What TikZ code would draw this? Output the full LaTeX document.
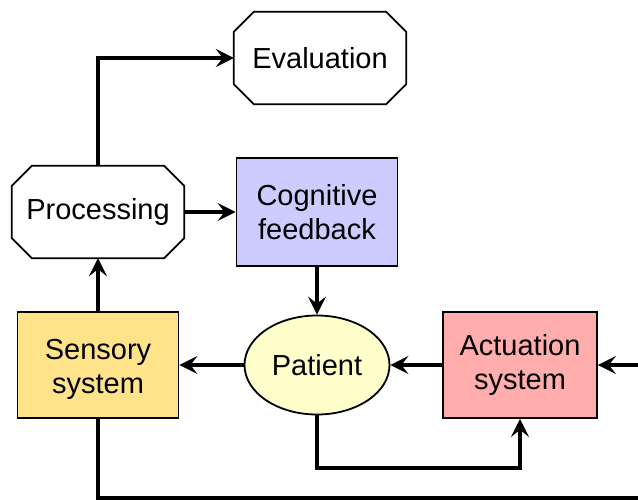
\documentclass[tikz,border=0pt]{standalone}
\usepackage{fontspec}
\setmainfont{Liberation Sans}
\usetikzlibrary{arrows.meta,shapes.geometric,calc}
\definecolor{cogfill}{HTML}{CCCCFF}
\definecolor{sensfill}{HTML}{FFE38A}
\definecolor{patfill}{HTML}{FFFFCC}
\definecolor{actfill}{HTML}{FFADAD}
\begin{document}
\begin{tikzpicture}[x=1pt,y=-1pt,
  txt/.style={align=center, font=\fontsize{29}{34}\selectfont, inner sep=0pt},
  box/.style={txt, draw=black, line width=1.8pt, rectangle},
  oct/.style={txt, rectangle, minimum width=172pt, minimum height=92pt},
  octline/.style={draw=black, line width=1.8pt},
  conn/.style={line width=3.6pt, -{Stealth[length=18pt,width=18pt,inset=7pt]}},
  plainline/.style={line width=3.6pt}]
\useasboundingbox (0,0) rectangle (638,499);

% octagon nodes
\node[oct] (eval) at (320,58) {Evaluation};
\node[oct] (proc) at (98,212) {Processing};
\foreach \n in {eval,proc}{
  \draw[octline] ([xshift=20pt]\n.north west) -- ([xshift=-20pt]\n.north east)
    -- ([yshift=-20pt]\n.north east) -- ([yshift=20pt]\n.south east)
    -- ([xshift=-20pt]\n.south east) -- ([xshift=20pt]\n.south west)
    -- ([yshift=20pt]\n.south west) -- ([yshift=-20pt]\n.north west) -- cycle;
}

\node[box, fill=cogfill, minimum width=161pt, minimum height=108pt] (cog) at (317,212) {Cognitive\\feedback};
\node[box, fill=sensfill, minimum width=161pt, minimum height=106pt] (sens) at (98,365) {};
\node[txt] (senstxt) at (98,369) {Sensory\\system};
\node[txt, draw=black, line width=1.8pt, ellipse, fill=patfill, minimum width=145pt, minimum height=99pt] (pat) at (317,365) {Patient};
\node[box, fill=actfill, minimum width=154pt, minimum height=106pt] (act) at (520,365) {Actuation\\system};

\coordinate (rin) at (642,365);
\coordinate (bl) at (98,498);
\coordinate (br) at (642,498);
\coordinate (pb) at (317,468);

% connectors
\draw[conn] (proc.north) |- (eval.west);
\draw[conn] (proc.east) -- (cog.west);
\draw[conn] (cog.south) -- (pat.north);
\draw[conn] (sens.north) -- (proc.south);
\draw[conn] (pat.west) -- (sens.east);
\draw[conn] (act.west) -- (pat.east);
\draw[conn] (rin) -- (act.east);
\draw[conn] (pat.south) -- (pb) -| (act.south);
\draw[plainline] (sens.south) -- (bl) -- (br);
\end{tikzpicture}
\end{document}
